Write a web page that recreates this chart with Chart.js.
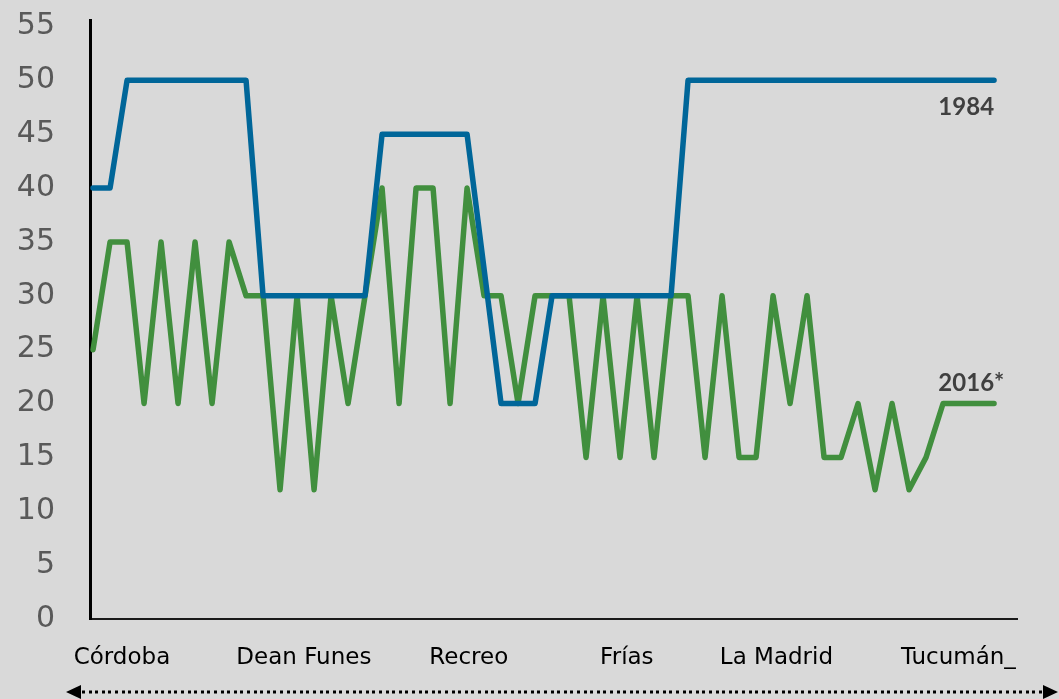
<!DOCTYPE html>
<html>
<head>
<meta charset="utf-8">
<script src="https://cdn.jsdelivr.net/npm/chart.js@4.4.1/dist/chart.umd.min.js"></script>
<style>
  html, body { margin: 0; padding: 0; background: #d9d9d9; }
  #wrap { width: 1059px; height: 699px; position: relative; }
</style>
</head>
<body>
<div id="wrap"><canvas id="c" width="1059" height="699"></canvas></div>
<script>
// Route stops (sample points along Córdoba -> Tucumán)
const series1984 = [40,40,50,50,50,50,50,50,50,50,30,30,30,30,30,30,30,45,45,45,45,45,45,null,20,20,20,30,30,30,30,30,30,30,30,50,50,50,50,50,50,50,50,50,50,50,50,50,50,50,50,50,50,50];
const series2016 = [25,35,35,20,35,20,35,20,35,30,30,12,30,12,30,20,30,40,20,40,40,20,40,30,30,20,30,30,30,15,30,15,30,15,30,30,15,30,15,15,30,20,30,15,15,20,12,20,12,15,20,20,20,20];
const stationNames = ['Córdoba','Dean Funes','Recreo','Frías','La Madrid','Tucumán_'];
const stationPos = [1.7, 12.4, 22.1, 31.4, 40.2, 50.9];
const yTicks = [0,5,10,15,20,25,30,35,40,45,50,55];
const seriesLabels = ['1984','2016*'];

const toXY = arr => arr.map((v, i) => ({x: i, y: v}));

const extras = {
  id: 'extras',
  beforeDraw(chart) {
    const ctx = chart.ctx;
    ctx.save();
    ctx.fillStyle = '#d9d9d9';
    ctx.fillRect(0, 0, chart.width, chart.height);
    ctx.restore();
  },
  afterDraw(chart) {
    const ctx = chart.ctx;
    const xs = chart.scales.x, ys = chart.scales.y;
    const last = series1984.length - 1;
    const lx = xs.getPixelForValue(last);
    ctx.save();
    ctx.fillStyle = '#404040';
    ctx.font = 'bold 24px Lato';
    ctx.textBaseline = 'middle';
    ctx.textAlign = 'right';
    ctx.fillText(seriesLabels[0], lx, ys.getPixelForValue(series1984[last]) + 27);
    const w = ctx.measureText(seriesLabels[0]).width;
    ctx.textAlign = 'left';
    ctx.fillText(seriesLabels[1], lx - w, ys.getPixelForValue(series2016[last]) - 20);

    // dotted double arrow
    const y = 692, x0 = 66, x1 = 1058;
    ctx.fillStyle = '#000';
    ctx.beginPath();
    ctx.moveTo(x0, y); ctx.lineTo(x0 + 15, y - 7); ctx.lineTo(x0 + 15, y + 7); ctx.closePath();
    ctx.fill();
    ctx.beginPath();
    ctx.moveTo(x1, y); ctx.lineTo(x1 - 15, y - 7); ctx.lineTo(x1 - 15, y + 7); ctx.closePath();
    ctx.fill();
    for (let x = x0 + 16; x < x1 - 17; x += 6.6) {
      ctx.fillRect(Math.round(x), y - 1.5, 3, 3);
    }
    ctx.restore();
  }
};

new Chart(document.getElementById('c'), {
  type: 'line',
  data: {
    datasets: [
      { label: seriesLabels[0], data: toXY(series1984), borderColor: '#006699', borderWidth: 5.5,
        pointRadius: 0, spanGaps: true, tension: 0, borderJoinStyle: 'round', borderCapStyle: 'round' },
      { label: seriesLabels[1], data: toXY(series2016), borderColor: '#418f3e', borderWidth: 5.5,
        pointRadius: 0, tension: 0, borderJoinStyle: 'round', borderCapStyle: 'round' }
    ]
  },
  options: {
    responsive: false,
    animation: false,
    events: [],
    layout: { padding: { top: 20, right: 42, left: 0, bottom: 0 } },
    plugins: { legend: { display: false }, tooltip: { enabled: false } },
    scales: {
      x: {
        type: 'linear', min: -0.18, max: 54.35,
        grid: { display: false, drawTicks: false },
        border: { display: true, color: '#1a1a1a', width: 2 },
        afterFit: s => { s.height = 80; s.paddingLeft = 0; s.paddingRight = 0; },
        afterBuildTicks: s => { s.ticks = stationPos.map(v => ({ value: v })); },
        ticks: {
          autoSkip: false, maxRotation: 0, padding: 25,
          color: '#000', font: { family: 'DejaVu Sans', size: 23 },
          callback: (v, i) => stationNames[i]
        }
      },
      y: {
        min: 0, max: 55.6,
        grid: { display: false, drawTicks: false },
        border: { display: true, color: '#000', width: 3 },
        afterFit: s => { s.width = 90; s.paddingTop = 0; s.paddingBottom = 0; },
        afterBuildTicks: s => { s.ticks = yTicks.map(v => ({ value: v })); },
        ticks: {
          padding: 35, color: '#595959', font: { family: 'DejaVu Sans', size: 30 },
          callback: v => String(v)
        }
      }
    }
  },
  plugins: [extras]
});
</script>
</body>
</html>
